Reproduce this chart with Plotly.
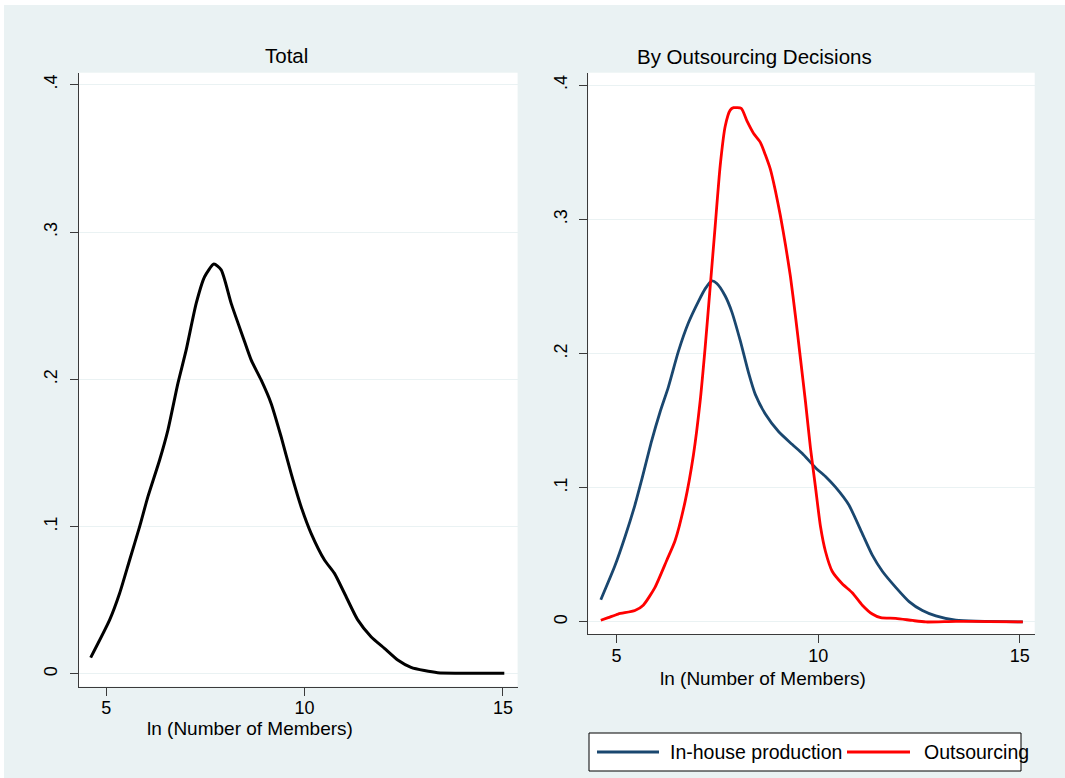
import plotly.graph_objects as go

# ---- data ----
total_x = [4.607, 5.085, 5.337, 5.589, 5.841, 6.05, 6.345, 6.554, 6.806, 7.015, 7.267, 7.479, 7.713,
           7.897, 8.149, 8.443, 8.652, 8.904, 9.156, 9.408, 9.66, 9.912, 10.164, 10.501, 10.753,
           11.005, 11.34, 11.675, 12.013, 12.348, 12.683, 13.02, 13.355, 15.035]
total_y = [0.0111, 0.0367, 0.0548, 0.0774, 0.1000, 0.1204, 0.1453, 0.1656, 0.1973, 0.2200, 0.2516,
           0.2697, 0.2783, 0.2743, 0.2516, 0.2290, 0.2132, 0.1996, 0.1837, 0.1611, 0.1362, 0.1136,
           0.0955, 0.0774, 0.0683, 0.0548, 0.0367, 0.0253, 0.0174, 0.0095, 0.0045, 0.0023, 0.0009,
           0.0005]

inhouse_x = [4.61, 4.96, 5.207, 5.456, 5.622, 5.871, 6.078, 6.285, 6.534, 6.783, 7.032, 7.197, 7.363,
             7.488, 7.695, 7.861, 8.068, 8.275, 8.441, 8.69, 9.022, 9.353, 9.602, 9.934, 10.182,
             10.431, 10.763, 11.095, 11.343, 11.592, 11.924, 12.255, 12.587, 12.919, 13.416, 15.075]
inhouse_y = [0.0165, 0.0418, 0.0631, 0.0871, 0.1057, 0.135, 0.1563, 0.175, 0.2016, 0.2229, 0.2389,
             0.2482, 0.2541, 0.2522, 0.2429, 0.2309, 0.2096, 0.1856, 0.1696, 0.155, 0.1417, 0.1324,
             0.1257, 0.115, 0.1084, 0.1004, 0.0871, 0.0658, 0.0498, 0.0378, 0.0258, 0.0152, 0.0085,
             0.0045, 0.0013, 0.0]

outs_x = [4.61, 4.793, 5.041, 5.456, 5.663, 5.954, 6.244, 6.451, 6.7, 6.907, 7.073, 7.197, 7.322,
          7.446, 7.571, 7.695, 7.819, 7.902, 8.093, 8.234, 8.4, 8.566, 8.69, 8.814, 8.939, 9.063,
          9.187, 9.312, 9.436, 9.561, 9.685, 9.809, 9.934, 10.058, 10.182, 10.348, 10.597, 10.846,
          11.095, 11.343, 11.551, 11.924, 12.338, 12.67, 13.416, 14.245, 15.075]
outs_y = [0.0013, 0.0032, 0.0059, 0.0085, 0.0125, 0.0258, 0.0458, 0.0605, 0.0897, 0.1244, 0.1643,
          0.2043, 0.2495, 0.2948, 0.3401, 0.3694, 0.3814, 0.3832, 0.3827, 0.3734, 0.364, 0.3574,
          0.3481, 0.3374, 0.3214, 0.3028, 0.2815, 0.2575, 0.2282, 0.1963, 0.1643, 0.1297, 0.1004,
          0.0711, 0.0525, 0.0378, 0.0285, 0.0218, 0.0125, 0.0059, 0.0032, 0.0027, 0.0011, 0.0,
          0.0005, 0.0003, 0.0]

x_ticks = [5, 10, 15]
x_ticktext = ["5", "10", "15"]
y_ticks = [0, 0.1, 0.2, 0.3, 0.4]
y_ticktext = ["0", ".1", ".2", ".3", ".4"]

panel_titles = ["Total", "By Outsourcing Decisions"]
x_title = "ln (Number of Members)"
series_names = ["In-house production", "Outsourcing"]

# ---- styling ----
W, H = 1065, 778
BG = "#EAF2F3"
FONT = "Liberation Sans, Arial, sans-serif"
NAVY = "#1A476F"
RED = "#FF0000"
AXC = "#3a3a3a"


def px(x):
    return x / W


def py(y):
    return 1 - y / H


fig = go.Figure()
fig.add_trace(go.Scatter(x=total_x, y=total_y, mode="lines",
                         line=dict(color="black", width=3, shape="spline", smoothing=0.6),
                         xaxis="x", yaxis="y", showlegend=False, name="Total"))
fig.add_trace(go.Scatter(x=inhouse_x, y=inhouse_y, mode="lines",
                         line=dict(color=NAVY, width=2.8, shape="spline", smoothing=0.6),
                         xaxis="x2", yaxis="y2", showlegend=False, name=series_names[0]))
fig.add_trace(go.Scatter(x=outs_x, y=outs_y, mode="lines",
                         line=dict(color=RED, width=2.8, shape="spline", smoothing=0.6),
                         xaxis="x2", yaxis="y2", showlegend=False, name=series_names[1]))

xax = dict(tickmode="array", tickvals=x_ticks, ticktext=x_ticktext, showgrid=False, zeroline=False,
           showline=True, linecolor=AXC, linewidth=1, ticks="outside", ticklen=8, tickcolor=AXC,
           ticklabelstandoff=-3,
           tickfont=dict(size=18, color="black", family=FONT), range=[4.30, 15.37])
yax = dict(tickmode="array", tickvals=y_ticks, ticktext=y_ticktext, showgrid=True, gridcolor=BG,
           gridwidth=1, zeroline=False, showline=True, linecolor=AXC, linewidth=1, ticks="outside",
           ticklen=8, tickcolor=AXC, tickangle=-90, ticklabelstandoff=5,
           tickfont=dict(size=18, color="black", family=FONT))

fig.update_layout(
    width=W, height=H,
    margin=dict(l=0, r=0, t=0, b=0),
    paper_bgcolor=BG, plot_bgcolor="white",
    font=dict(family=FONT, color="black"),
    xaxis=dict(xax, domain=[px(78.5), px(517.6)], anchor="y"),
    yaxis=dict(yax, domain=[py(686.5), py(72.7)], anchor="x", range=[-0.0085, 0.4082]),
    xaxis2=dict(xax, domain=[px(588.3), px(1034.7)], anchor="y2"),
    yaxis2=dict(yax, domain=[py(634.3), py(72.7)], anchor="x2", range=[-0.0092, 0.4093]),
    showlegend=False,
)

shapes = [
    # white outer strips
    dict(type="rect", xref="paper", yref="paper", x0=0, x1=1, y0=py(5), y1=1,
         fillcolor="white", line=dict(width=0), layer="below"),
    dict(type="rect", xref="paper", yref="paper", x0=0, x1=px(4), y0=0, y1=1,
         fillcolor="white", line=dict(width=0), layer="below"),
    # legend box
    dict(type="rect", xref="paper", yref="paper", x0=px(589), x1=px(1021), y0=py(771), y1=py(733),
         fillcolor="white", line=dict(color="black", width=1)),
    dict(type="line", xref="paper", yref="paper", x0=px(597), x1=px(659), y0=py(752), y1=py(752),
         line=dict(color=NAVY, width=2.8)),
    dict(type="line", xref="paper", yref="paper", x0=px(847), x1=px(910), y0=py(752), y1=py(752),
         line=dict(color=RED, width=2.8)),
]
fig.update_layout(shapes=shapes)

ann = [
    dict(text=panel_titles[0], x=px(286), y=py(55.5), xanchor="center", yanchor="middle", size=20.5),
    dict(text=panel_titles[1], x=px(754), y=py(56.5), xanchor="center", yanchor="middle", size=20.5),
    dict(text=x_title, x=px(250), y=py(728.5), xanchor="center", yanchor="middle", size=19),
    dict(text=x_title, x=px(763), y=py(678.5), xanchor="center", yanchor="middle", size=19),
    dict(text=series_names[0], x=px(668), y=py(752), xanchor="left", yanchor="middle", size=19.5),
    dict(text=series_names[1], x=px(922), y=py(752), xanchor="left", yanchor="middle", size=19.5),
]
fig.update_layout(annotations=[
    dict(text=a["text"], x=a["x"], y=a["y"], xref="paper", yref="paper", xanchor=a["xanchor"],
         yanchor=a["yanchor"], showarrow=False, font=dict(size=a["size"], color="black", family=FONT))
    for a in ann
])

fig.write_html("out.html", config={"displayModeBar": False},
               post_script="document.body.style.margin='0';document.body.style.overflow='hidden';")
